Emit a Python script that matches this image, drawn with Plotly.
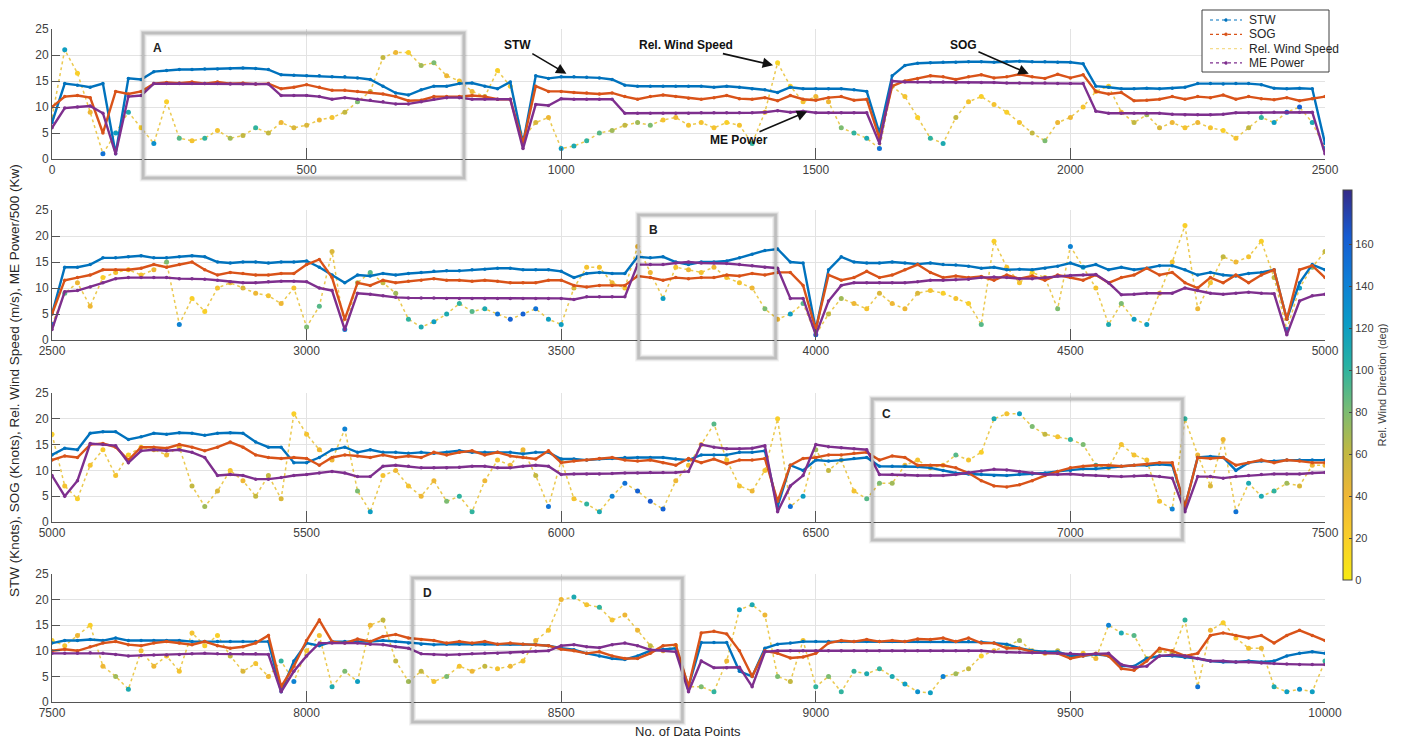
import numpy as np
import plotly.graph_objects as go

# ---------------------------------------------------------------------------
# Voyage log, sampled every 25 data points (4 segments of 2500 points each)
# ---------------------------------------------------------------------------
STEP = 25
SEGMENT = 2500

# Segment 1: points 0 - 2500
stw_1 = [7, 14.5, 14.2, 13.8, 14.5, 1, 15.5, 15.3, 16.8, 17,
         17.2, 17.2, 17.3, 17.3, 17.4, 17.5, 17.4, 17.2, 16.2, 16.1,
         16, 16, 15.8, 15.8, 15.6, 15.3, 14, 12.7, 12.3, 13.3,
         14, 14, 14.5, 14.6, 14, 13.5, 14.8, 3, 16, 15.5,
         15.8, 15.8, 15.7, 15.6, 15.3, 14.2, 14, 14, 14, 14,
         14, 14, 13.8, 14, 13.8, 13.5, 13.3, 12.8, 13.8, 13.5,
         13.5, 13.5, 13.5, 13.3, 13, 5, 16, 18, 18.4, 18.5,
         18.6, 18.6, 18.7, 18.7, 18.6, 18.7, 18.8, 18.7, 18.7, 18.6,
         18.6, 18.3, 14, 13.8, 13.5, 13.5, 13.6, 13.5, 13.6, 13.8,
         14.5, 14.5, 14.4, 14.5, 14.5, 14.3, 13.6, 13.5, 13.6, 13.5,
         3]
sog_1 = [10, 12, 12.2, 11.8, 5, 13, 12.5, 13, 14.5, 14.7,
         14.6, 14.8, 14.5, 14.8, 14.5, 14.6, 14.4, 14.5, 13.5, 13.8,
         14.3, 13.8, 13.2, 13.2, 13, 12.8, 12.5, 12, 11.2, 11.3,
         12, 12, 12, 12.2, 12, 11.5, 11.5, 3, 14, 13,
         13, 12.8, 12.7, 12.5, 12.7, 12, 11.5, 12, 12.3, 12,
         11.7, 11.5, 11.8, 12.2, 11.6, 11.5, 11.8, 11.2, 12.2, 11.5,
         11.3, 11.8, 12, 11.3, 11.5, 4, 14, 15, 15.5, 16,
         15.8, 15.3, 15.8, 16.2, 15.6, 15.8, 16.3, 15.8, 15.5, 16.3,
         15.6, 16.2, 13, 12.5, 12.8, 11.2, 11.3, 11.5, 12, 11.5,
         12, 11.8, 12.3, 11.5, 12, 11.6, 11.4, 11.8, 11.2, 11.6,
         12]
me_1 = [6, 9.8, 10, 10.2, 8.8, 1, 12, 12.2, 14.5, 14.5,
        14.5, 14.5, 14.5, 14.5, 14.4, 14.4, 14.4, 14.4, 12.2, 12.2,
        12.2, 12, 11.5, 11.8, 11.5, 11.3, 11, 10.6, 10.6, 11,
        11.5, 11.8, 11.8, 11.5, 11.5, 11.5, 11.5, 2, 10.5, 10.3,
        11.6, 11.5, 11.5, 11.5, 11.5, 8.8, 8.8, 8.8, 8.8, 8.8,
        8.8, 8.9, 8.9, 8.9, 8.9, 8.9, 9, 9.3, 9, 9.2,
        8.9, 8.9, 8.9, 8.9, 8.9, 3, 15, 14.8, 14.8, 14.8,
        14.8, 14.7, 14.7, 14.7, 14.7, 14.6, 14.6, 14.6, 14.6, 14.5,
        14.5, 14.5, 9.2, 8.8, 8.8, 8.8, 8.8, 8.8, 8.6, 8.5,
        8.5, 8.5, 8.6, 8.9, 8.9, 8.9, 9, 9, 9, 9,
        1]
wind_1 = [8, 21, 16.5, 9, 1, 5, 9, 6, 3, 11,
          4, 3.5, 4, 5.5, 4, 4.5, 6, 5, 7, 6,
          6.5, 7.5, 8, 9, 11, 13, 19.5, 20.5, 20.5, 18,
          18.5, 16, 15, 13, 12, 17, 14, 4, 7, 8,
          2, 2.5, 3.5, 5, 5.5, 6.5, 7, 6.5, 7.5, 8,
          6.5, 7, 6, 7, 6.5, 3, 9, 18.5, 14, 11,
          12, 11, 6, 5, 4, 2, 14, 12, 8, 4,
          3, 8, 11, 12, 10.5, 9, 7, 5, 3.5, 7,
          8, 10, 13, 14, 9, 7, 8.5, 6, 7, 6,
          7, 6, 5.5, 4, 6, 8, 7, 9, 10, 7,
          2]
wdir_1 = [60, 120, 20, 40, 150, 120, 110, 20, 130, 20,
          90, 30, 100, 30, 70, 60, 100, 60, 40, 50,
          50, 40, 30, 60, 80, 60, 60, 40, 20, 70,
          80, 40, 30, 40, 60, 20, 30, 110, 50, 40,
          120, 110, 100, 90, 70, 60, 70, 80, 30, 40,
          30, 30, 30, 20, 30, 100, 20, 15, 20, 30,
          40, 40, 80, 100, 110, 150, 60, 30, 20, 100,
          110, 60, 30, 20, 30, 20, 30, 60, 80, 40,
          40, 30, 30, 20, 40, 60, 70, 50, 40, 30,
          40, 30, 20, 30, 60, 100, 120, 150, 160, 110,
          130]

# Segment 2: points 2500 - 5000
stw_2 = [5, 14, 14, 14.5, 15.8, 15.8, 16, 16.2, 15.8, 15.8,
         16, 16.2, 16, 15, 14.8, 15, 15, 14.8, 15, 15,
         15.2, 14, 12.5, 11, 12.5, 12.3, 12.8, 12.5, 12.8, 13,
         13.2, 13.3, 13.3, 13.5, 13.6, 13.8, 13.8, 13.5, 13.5, 13.5,
         13.2, 12, 12.8, 13, 12.8, 12.8, 16, 15.8, 16, 15,
         14.5, 15, 15, 15.2, 15.8, 16.5, 17.2, 17.5, 15, 14.8,
         2, 13.5, 16, 15, 14.8, 14.8, 15, 14.8, 14.6, 14.8,
         14.5, 14.4, 14.2, 13.8, 14, 13.5, 13.6, 13.5, 13.8, 14.2,
         14.8, 14, 14.5, 13.5, 14, 13.5, 13.8, 14.3, 14.3, 13.5,
         12.5, 13, 12.5, 12.3, 12.8, 13, 13.5, 4, 11, 14.5,
         13.5]
sog_2 = [5, 11.5, 12, 12.5, 13.5, 13.5, 13.5, 13.8, 14.5, 14,
         14.5, 15, 13.5, 12.5, 13, 12.8, 12.5, 12.5, 12.8, 12.8,
         14.5, 15.5, 12, 4, 11, 10.5, 11.5, 11, 11.3, 11.5,
         11.8, 11.5, 11.5, 11.3, 11.5, 11.3, 11, 11, 11, 11.5,
         11.5, 10.5, 10.2, 10.5, 10.5, 10.5, 12.3, 12, 11.5, 12,
         11.8, 12, 12, 12.5, 12.3, 12.8, 12.5, 13, 13, 10.5,
         2, 12.5, 11.5, 12, 13.2, 12, 12.5, 13.5, 14.5, 13,
         12, 12.3, 12, 12.2, 11.5, 12.5, 11.8, 12.3, 11.5, 12.5,
         12, 11.5, 12.5, 11, 12, 12.5, 13.8, 12.5, 13, 11,
         10, 12, 11, 12.5, 11, 12.5, 13.5, 4, 13.5, 14.3,
         12]
me_2 = [2, 9.3, 9.5, 10.2, 11, 11.8, 12, 12, 12, 12,
        11.8, 11.8, 11.7, 11.5, 11.2, 11, 11, 11.2, 11.3, 11.3,
        11.2, 10, 9.5, 2, 9, 8.8, 8.5, 8.2, 8.1, 8.1,
        8.1, 8, 8, 8, 8, 8, 8, 8, 8, 8,
        8, 7.8, 8.3, 8.3, 8.3, 8.3, 14.5, 14.5, 14.5, 14.8,
        15, 14.8, 14.8, 14.7, 14.5, 14.3, 14, 13.8, 8, 8,
        1, 7.5, 10.5, 11, 11, 11, 11, 11, 11.2, 11.5,
        11.5, 11.6, 11.7, 12, 12.1, 12, 11.8, 11.8, 12, 12.3,
        12.4, 12.5, 12.6, 11, 8.7, 8.8, 9, 9, 9, 10,
        9.5, 9, 8.8, 9, 9.2, 9, 8.9, 1, 7.5, 8.5,
        8.8]
wind_2 = [3, 9, 11, 6.5, 12, 13, 13.5, 12.5, 13.5, 15,
          3, 8, 5.5, 10, 11, 10, 9, 8.5, 7, 10,
          2.5, 6.5, 17, 2, 11, 13, 11, 9, 4, 2.5,
          3.5, 5, 7, 5.5, 6, 5, 4, 5, 6, 4,
          3, 10, 14, 14, 11, 10, 18, 13, 8, 14,
          13.5, 13, 14, 12, 11, 10, 6, 4, 5, 7,
          1, 5, 8, 7, 6, 9, 7, 6, 9, 9.5,
          9, 8, 7, 3, 19, 14, 11, 13, 12, 6,
          18, 14, 10, 3, 7, 4, 3, 9, 15, 22,
          6, 11, 16, 15, 16, 19, 12, 2, 10, 14,
          17]
wdir_2 = [150, 90, 40, 40, 20, 30, 20, 30, 40, 80,
          140, 20, 20, 30, 40, 50, 40, 30, 40, 30,
          80, 90, 50, 140, 70, 90, 60, 70, 100, 110,
          120, 110, 100, 90, 110, 150, 160, 160, 150, 120,
          120, 50, 30, 30, 40, 30, 40, 40, 120, 30,
          40, 30, 40, 30, 30, 40, 80, 40, 120, 90,
          160, 60, 70, 40, 30, 50, 40, 40, 50, 30,
          20, 30, 20, 90, 20, 30, 30, 20, 30, 80,
          140, 110, 30, 110, 80, 120, 120, 40, 30, 20,
          40, 30, 60, 40, 30, 20, 60, 130, 120, 80,
          60]

# Segment 3: points 5000 - 7500
stw_3 = [13, 14.3, 14, 17.2, 17.5, 17.5, 16, 16.5, 17.2, 17,
         17.3, 17.2, 16.8, 17.2, 17.3, 17.2, 15.5, 14.5, 14.5, 11.5,
         11.5, 12.5, 14, 14.5, 13.5, 14, 13.5, 13.5, 13.3, 13.5,
         13.3, 13.5, 13.8, 13.5, 13.5, 13.5, 13.5, 13.2, 13.5, 13.5,
         12.2, 12.2, 12, 12.2, 12.3, 12.5, 12.5, 12.5, 12.5, 12.2,
         12, 13, 13, 13, 13.5, 13.5, 13.8, 3, 11, 10,
         12, 11.8, 12, 12.3, 12.5, 10.8, 10.8, 10.8, 10.7, 10.5,
         10, 9.5, 9.3, 9.2, 9, 9, 9.2, 9.3, 9.5, 9.8,
         10, 10.3, 10.3, 10.5, 10.8, 11, 11, 11.2, 11, 3,
         12.5, 12.7, 12.5, 10, 11.5, 11.8, 11.8, 12, 12, 12,
         12]
sog_3 = [12, 12.8, 12.5, 15, 15.2, 14.5, 12, 14.5, 14.5, 14.3,
         15, 14.5, 13.8, 14.5, 15.5, 14.5, 13, 12.5, 12.3, 12.5,
         12.3, 11, 12.5, 13, 12.8, 12.5, 13, 12.5, 12.8, 12.5,
         13.5, 13, 13.5, 13.8, 13, 13.5, 12.8, 12.5, 12.2, 13.8,
         11.5, 11.8, 12, 12.3, 12.5, 12, 11.8, 12, 11.5, 11,
         12.3, 11.5, 12.2, 11.3, 12, 12, 12.3, 4, 11, 12.3,
         12.5, 13, 13, 13.3, 13.5, 12, 12.8, 12.5, 11, 11,
         11, 10.5, 9.5, 8, 7, 6.8, 7.2, 8, 9, 9.8,
         10.5, 10.8, 11, 11, 10.8, 11, 11.2, 11.5, 11.5, 3,
         12.5, 12.3, 12.5, 11, 11.5, 12, 11.5, 12, 11.8, 11.5,
         11.5]
me_3 = [9, 5, 8, 15.2, 15, 14.8, 11.5, 13.8, 14, 13.8,
        14, 13.5, 12.5, 9, 9.2, 9, 8.3, 8.3, 8.6, 9,
        9.2, 9.5, 9.8, 9.5, 8.8, 8.8, 10.8, 11, 10.8, 10.5,
        10.5, 10.5, 10.6, 10.8, 10.8, 10.5, 10.5, 10.8, 11, 10.8,
        9.2, 9.3, 9.3, 9.3, 9.4, 9.5, 9.5, 9.6, 9.6, 9.6,
        9.8, 15, 14.5, 14.2, 14.2, 14.3, 14.8, 2, 7, 9,
        15, 14.6, 14.4, 14.2, 14, 9.2, 9.2, 9.1, 9, 9,
        9, 9.2, 9.6, 9.9, 10.2, 10.1, 9.8, 9.5, 9.2, 9.2,
        9.3, 9.1, 9, 8.8, 8.8, 8.9, 9, 8.8, 8.5, 2,
        8.8, 8.8, 8.5, 8.8, 9, 9.2, 9.3, 9.3, 9.3, 9.5,
        9.6]
wind_3 = [17, 7, 4.5, 11, 14, 9, 13, 14.5, 14, 13,
          14.5, 7, 3, 6, 10, 8, 5, 9, 4.5, 21,
          17, 14, 12, 18, 6, 2, 9, 10, 7, 5,
          8, 4, 5, 2, 8, 12, 11, 14, 9, 3,
          12, 4.5, 3.5, 2, 5, 7.5, 6, 4, 2.5, 8,
          11, 15, 19, 12, 7, 6, 10, 20, 3, 5,
          14, 10, 12, 6, 4.5, 7.5, 7.5, 11, 12, 10.5,
          11, 13, 12, 13.5, 20, 21, 21, 18.5, 17, 16.5,
          16, 15, 11, 10.5, 15, 13, 12, 4, 2.5, 20,
          13, 7, 16, 2, 7.5, 5, 6, 7.5, 7, 11,
          11]
wdir_3 = [20, 30, 20, 30, 25, 30, 20, 20, 30, 40,
          40, 60, 70, 50, 30, 40, 60, 60, 50, 20,
          30, 40, 40, 140, 80, 120, 30, 40, 30, 40,
          40, 80, 100, 100, 40, 30, 40, 40, 60, 150,
          50, 30, 100, 110, 140, 150, 160, 165, 160, 40,
          30, 40, 90, 30, 30, 40, 30, 20, 150, 120,
          70, 60, 40, 30, 90, 80, 70, 40, 30, 50,
          30, 90, 30, 20, 110, 30, 120, 80, 60, 30,
          100, 80, 100, 30, 30, 30, 30, 30, 140, 100,
          40, 50, 40, 150, 110, 110, 100, 70, 50, 40,
          40]

# Segment 4: points 7500 - 10000
stw_4 = [11.5, 12, 12, 12.2, 12, 12.5, 12, 12, 12, 12,
         12, 11.8, 11.8, 11.8, 11.8, 11.8, 11.8, 11.8, 2, 8,
         11.5, 11, 11.8, 11.8, 11.8, 11.8, 12, 11.8, 11.5, 11.3,
         11.2, 11.3, 11.3, 11.3, 11.3, 11.3, 11.3, 11.3, 11.2, 11,
         10.5, 10.2, 9.5, 9, 8.5, 8.3, 9, 10, 10.3, 10.5,
         3, 11.6, 11.6, 11.6, 6, 5, 10.5, 11.3, 11.5, 11.8,
         11.8, 11.8, 11.8, 11.8, 11.8, 11.8, 11.8, 11.8, 11.8, 11.8,
         11.8, 11.8, 11.8, 11.7, 11.5, 11.3, 10.5, 10, 9.8, 9.8,
         9, 9, 9.3, 9, 7, 7, 8.5, 9, 9, 8.7,
         8.5, 8, 7.8, 7.8, 8, 7.8, 8, 9, 9.5, 9.8,
         9.5]
sog_4 = [10, 10.3, 10, 10.8, 11.5, 11.8, 11.2, 11, 11.5, 11.8,
         11.5, 11.2, 11.8, 11, 10.5, 10.8, 11.5, 13, 3, 7,
         12, 16, 11.8, 11.5, 12.3, 11.8, 12.8, 13.2, 12.5, 12.2,
         12, 11.5, 11.8, 11.5, 11.8, 11.3, 11.5, 11.3, 11.2, 11,
         10.3, 10, 9.5, 9.8, 9, 8.5, 8.5, 9.5, 11, 11.2,
         3, 13.5, 13.8, 13.3, 10, 5, 10, 9.5, 8.6, 8.8,
         9.5, 11.5, 12, 11.8, 12.2, 11.8, 12, 11.8, 12.3, 12.2,
         12.5, 11.8, 12.5, 11.5, 11.5, 10.5, 10.5, 9.8, 9.5, 9.5,
         8.5, 9, 9.5, 9, 6.5, 6.2, 8, 10.5, 10, 9,
         9.5, 13, 13.5, 13, 12.5, 13, 11.5, 13, 14, 13,
         12]
me_4 = [9.5, 9.5, 9.5, 9.6, 9.5, 9.3, 9, 9.1, 9.2, 9.2,
        9.3, 9.4, 9.5, 9.4, 9.4, 9.4, 9.4, 9.3, 2, 6,
        9, 11.5, 11.5, 11.5, 11.5, 11.3, 11.2, 10.8, 10.5, 9.4,
        9.3, 9.2, 9.3, 9.4, 9.5, 9.5, 9.6, 9.7, 9.9, 10,
        11, 11.2, 10.8, 10.6, 11.2, 11.5, 11, 10.2, 10, 9.8,
        2, 8, 6.7, 6.7, 6.8, 3, 9.8, 10, 10, 10,
        10, 10, 10, 10, 10, 10, 10, 10, 10, 10,
        10, 10, 10, 10, 9.8, 9.7, 9.7, 9.6, 9.6, 9.5,
        9.5, 9.3, 9.4, 9.5, 7.3, 6.8, 7, 9, 9.2, 9,
        8.5, 8, 8, 7.8, 7.8, 7.6, 7.5, 7.4, 7.3, 7.3,
        7.3]
wind_4 = [12, 11, 13, 15, 7, 5, 2.5, 10, 7, 9,
          6, 13.5, 11, 13, 9, 6, 7.5, 5, 8, 4,
          10, 13, 3, 6, 4, 15, 16, 8, 4, 6,
          4, 5, 7, 6, 7, 6.5, 7, 8, 12, 14,
          20, 20.5, 19, 18.5, 16, 17, 14, 11, 10, 11,
          3, 3, 2, 8, 18, 19, 17, 5, 4, 12,
          3, 5, 2, 6, 5.5, 6.5, 5, 3.5, 2, 1.8,
          5, 5.5, 6.5, 9, 10, 11, 12, 10, 9.5, 10,
          9, 9.5, 8.5, 15, 13.5, 13, 8.5, 10, 9.5, 16,
          3, 14, 15.5, 12.5, 10.5, 10.5, 3, 2, 2.5, 2,
          8]
wdir_4 = [20, 30, 40, 20, 40, 70, 110, 30, 40, 30,
          30, 30, 20, 20, 60, 50, 30, 40, 100, 140,
          30, 30, 110, 80, 120, 40, 60, 60, 70, 60,
          30, 80, 30, 40, 60, 30, 40, 30, 40, 30,
          40, 110, 30, 100, 30, 40, 40, 60, 40, 30,
          120, 80, 100, 40, 120, 110, 40, 80, 60, 30,
          100, 80, 100, 100, 110, 100, 110, 120, 130, 120,
          140, 70, 60, 20, 30, 60, 70, 50, 40, 60,
          40, 30, 40, 140, 110, 90, 70, 50, 60, 100,
          150, 40, 20, 30, 30, 40, 110, 120, 130, 120,
          100]

SEGMENTS = [
    (stw_1, sog_1, wind_1, wdir_1, me_1),
    (stw_2, sog_2, wind_2, wdir_2, me_2),
    (stw_3, sog_3, wind_3, wdir_3, me_3),
    (stw_4, sog_4, wind_4, wdir_4, me_4),
]

Y_TICKS = [0, 5, 10, 15, 20, 25]
DIR_TICKS = [0, 20, 40, 60, 80, 100, 120, 140, 160]
SERIES_NAMES = ["STW", "SOG", "Rel. Wind Speed", "ME Power"]

# ---------------------------------------------------------------------------
# Styling
# ---------------------------------------------------------------------------
W, H = 1407, 740
C_STW = "rgb(0,114,189)"
C_SOG = "rgb(217,83,25)"
C_ME = "rgb(126,47,142)"
FONT = "Liberation Sans"
NARROW = "Liberation Sans Narrow, Liberation Sans"
TXT = "#404040"

# parula-like colour map, yellow at 0 deg running to navy at the top
PARULA_REV = [
    [0.00, "rgb(247,234,18)"],
    [0.11, "rgb(249,206,42)"],
    [0.22, "rgb(238,182,54)"],
    [0.33, "rgb(192,184,66)"],
    [0.44, "rgb(118,188,118)"],
    [0.55, "rgb(40,178,163)"],
    [0.66, "rgb(10,155,198)"],
    [0.77, "rgb(15,125,214)"],
    [0.88, "rgb(22,92,210)"],
    [1.00, "rgb(53,42,135)"],
]

# plot-area geometry in pixels (fixed margins, panels stacked inside)
X_LEFT, X_RIGHT = 52, 1325
Y_TOP, Y_BOTTOM = 29, 702
PANEL_PX = [(29, 159), (210, 340), (393, 522), (574, 702)]  # (top, bottom)
PW = X_RIGHT - X_LEFT
PH = Y_BOTTOM - Y_TOP


def px_to_paper_x(px):
    return (px - X_LEFT) / PW


def px_to_paper_y(py):
    return (Y_BOTTOM - py) / PH


def data_to_paper_x(d, k):
    return (d - k * SEGMENT) / SEGMENT


fig = go.Figure()

for k, (stw, sog, wind, wdir, me) in enumerate(SEGMENTS):
    xs = np.arange(k * SEGMENT, (k + 1) * SEGMENT + 1, STEP)
    xa = "x" if k == 0 else f"x{k + 1}"
    ya = "y" if k == 0 else f"y{k + 1}"

    fig.add_trace(go.Scatter(
        x=xs, y=wind, mode="lines", xaxis=xa, yaxis=ya, showlegend=False,
        line=dict(color="rgba(232,192,48,0.85)", width=1.5, dash="dot"),
        hoverinfo="skip"))
    fig.add_trace(go.Scatter(
        x=xs, y=wind, mode="markers", xaxis=xa, yaxis=ya, showlegend=False,
        marker=dict(color=wdir, coloraxis="coloraxis", size=5,
                    line=dict(width=0)),
        name="Rel. Wind Speed"))
    for vals, col, nm in ((stw, C_STW, "STW"), (sog, C_SOG, "SOG"),
                          (me, C_ME, "ME Power")):
        fig.add_trace(go.Scatter(
            x=xs, y=vals, mode="lines+markers", xaxis=xa, yaxis=ya,
            showlegend=False, name=nm,
            line=dict(color=col, width=2.4),
            marker=dict(color=col, size=3.5)))

    top, bottom = PANEL_PX[k]
    dom_y = [px_to_paper_y(bottom), px_to_paper_y(top)]
    axis_common = dict(showgrid=True, gridcolor="#e3e3e3", gridwidth=1,
                       zeroline=False, showline=True, linecolor="#555555",
                       linewidth=1, ticks="inside", mirror=False,
                       automargin=False,
                       tickfont=dict(family=FONT, size=12, color=TXT))
    xticks = list(range(k * SEGMENT, (k + 1) * SEGMENT + 1, 500))
    fig.layout[("xaxis" if k == 0 else f"xaxis{k + 1}")] = dict(
        domain=[0, 1], anchor=ya, range=[k * SEGMENT, (k + 1) * SEGMENT],
        tickmode="array", tickvals=xticks, ticktext=[str(t) for t in xticks],
        ticklen=11, tickcolor="#555555", **axis_common)
    fig.layout[("yaxis" if k == 0 else f"yaxis{k + 1}")] = dict(
        domain=dom_y, anchor=xa, range=[0, 25], tickmode="array",
        tickvals=Y_TICKS, ticklen=8, tickcolor="#555555", **axis_common)

fig.update_layout(
    coloraxis=dict(
        colorscale=PARULA_REV, cmin=0, cmax=186,
        colorbar=dict(
            x=px_to_paper_x(1343), xanchor="left", xpad=0, xref="paper",
            y=px_to_paper_y(385), yanchor="middle", ypad=0, yref="paper",
            len=390 / PH, lenmode="fraction", thickness=9,
            outlinewidth=1, outlinecolor="#444444",
            tickmode="array", tickvals=DIR_TICKS, ticks="inside", ticklen=3,
            tickcolor="#444444",
            tickfont=dict(family=FONT, size=11, color=TXT),
            title=dict(text="Rel. Wind Direction (deg)", side="right",
                       font=dict(family=FONT, size=11, color=TXT)))),
)

shapes = []
annotations = []

# highlighted regions A-D: (label, segment, start, end, top px, bottom px)
REGIONS = [("A", 0, 179, 809, 33, 178),
           ("B", 1, 3652, 3921, 215, 358),
           ("C", 2, 6611, 7220, 399, 540),
           ("D", 3, 8208, 8738, 578, 722)]
for label, k, d0, d1, top, bottom in REGIONS:
    x0, x1 = data_to_paper_x(d0, k), data_to_paper_x(d1, k)
    y0, y1 = px_to_paper_y(bottom), px_to_paper_y(top)
    for w, c in ((7, "rgba(0,0,0,0.06)"), (4.5, "rgba(0,0,0,0.10)"),
                 (2.5, "rgb(190,190,190)")):
        shapes.append(dict(type="rect", xref="paper", yref="paper",
                           x0=x0, x1=x1, y0=y0, y1=y1,
                           line=dict(color=c, width=w), layer="above"))
    annotations.append(dict(
        text=f"<b>{label}</b>", xref="paper", yref="paper",
        x=x0 + 8 / PW, y=y1 - 6 / PH, xanchor="left", yanchor="top",
        showarrow=False, font=dict(family=NARROW, size=12, color="#222222")))

# call-outs on the first segment
CALLOUTS = [("STW", 1012, 16.3, 915, 21.9),
            ("Rel. Wind Speed", 1418, 18.0, 1245, 21.9),
            ("SOG", 1920, 16.3, 1790, 21.9),
            ("ME Power", 1485, 9.2, 1350, 3.6)]
for text, x, y, ax, ay in CALLOUTS:
    annotations.append(dict(
        text=f"<b>{text}</b>", x=x, y=y, ax=ax, ay=ay, xref="x", yref="y",
        axref="x", ayref="y", showarrow=True, arrowhead=2, arrowsize=1.3,
        arrowwidth=1.6, arrowcolor="#111111", standoff=1,
        font=dict(family=NARROW, size=12, color="#111111")))

# legend box
LEG_L, LEG_R, LEG_T, LEG_B = 1202, 1329, 10, 72
shapes.append(dict(type="rect", xref="paper", yref="paper",
                   x0=px_to_paper_x(LEG_L), x1=px_to_paper_x(LEG_R),
                   y0=px_to_paper_y(LEG_B), y1=px_to_paper_y(LEG_T),
                   line=dict(color="#404040", width=1), fillcolor="white",
                   layer="above"))
leg_colors = [C_STW, C_SOG, "rgb(245,220,140)", C_ME]
for i, (nm, col) in enumerate(zip(SERIES_NAMES, leg_colors)):
    yy = px_to_paper_y(20 + 14.3 * i)
    shapes.append(dict(type="line", xref="paper", yref="paper",
                       x0=px_to_paper_x(1210), x1=px_to_paper_x(1242),
                       y0=yy, y1=yy, line=dict(color=col, width=1.2, dash="dot"),
                       layer="above"))
    if nm != "Rel. Wind Speed":
        shapes.append(dict(type="circle", xref="paper", yref="paper",
                           x0=px_to_paper_x(1224.5), x1=px_to_paper_x(1227.5),
                           y0=yy - 1.5 / PH, y1=yy + 1.5 / PH,
                           fillcolor=col, line=dict(color=col, width=0.5),
                           layer="above"))
    annotations.append(dict(
        text=nm, xref="paper", yref="paper", x=px_to_paper_x(1247), y=yy,
        xanchor="left", yanchor="middle", showarrow=False,
        font=dict(family=FONT, size=12, color="#262626")))

# shared axis titles
annotations.append(dict(
    text="STW (Knots), SOG (Knots), Rel. Wind Speed (m/s), ME Power/500 (Kw)",
    xref="paper", yref="paper", x=px_to_paper_x(15), y=px_to_paper_y(381),
    textangle=-90, showarrow=False, xanchor="center", yanchor="middle",
    font=dict(family=FONT, size=13.5, color="#262626")))
annotations.append(dict(
    text="No. of Data Points", xref="paper", yref="paper",
    x=px_to_paper_x(688), y=px_to_paper_y(731), showarrow=False,
    xanchor="center", yanchor="middle",
    font=dict(family=FONT, size=13, color="#262626")))

fig.update_layout(
    width=W, height=H, autosize=False,
    margin=dict(l=X_LEFT, r=W - X_RIGHT, t=Y_TOP, b=H - Y_BOTTOM,
                autoexpand=False),
    paper_bgcolor="white", plot_bgcolor="white",
    showlegend=False, shapes=shapes, annotations=annotations,
    font=dict(family=FONT, color=TXT),
)

fig.write_html("out.html")
